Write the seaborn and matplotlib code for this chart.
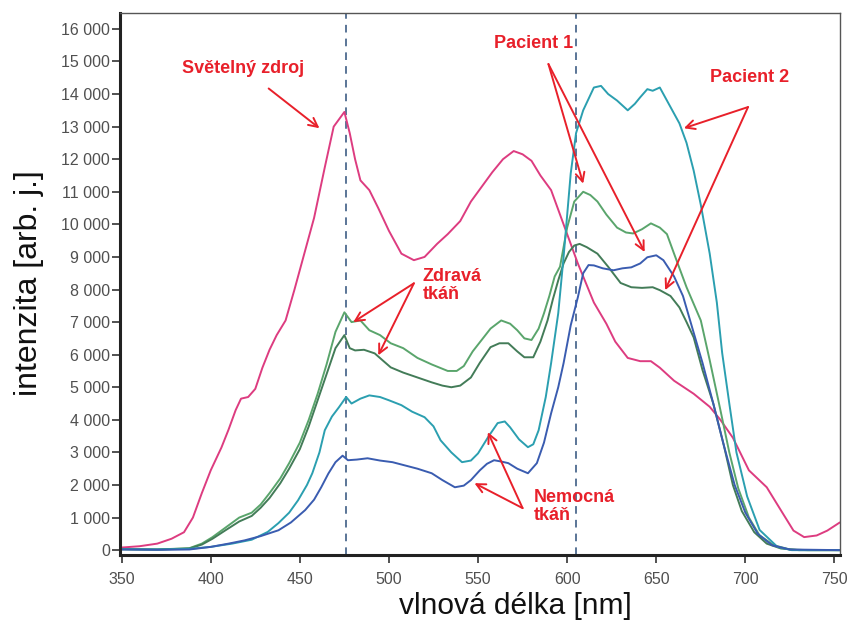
import matplotlib
matplotlib.use("Agg")
import matplotlib.pyplot as plt
import seaborn as sns
import numpy as np
from matplotlib.ticker import FuncFormatter

# ---------------- data ----------------
zdroj_x = [350, 360, 370, 378, 385, 390, 395, 400, 406, 410, 414, 417, 421, 425, 429, 433, 437, 442,
           447, 452, 458, 464, 469, 475, 478, 481, 484, 489, 494, 500, 507, 514, 520, 527, 533, 540,
           546, 552, 558, 564, 570, 575, 580, 585, 591, 598, 606, 615, 622, 627, 634, 641, 647, 652,
           660, 671, 680, 686, 693, 702, 712, 721, 727, 733, 740, 746, 753]
zdroj_y = [80, 120, 200, 350, 550, 1000, 1750, 2450, 3150, 3700, 4300, 4650, 4700, 4950, 5600, 6150,
           6600, 7050, 8000, 9000, 10200, 11750, 13000, 13450, 12800, 12000, 11350, 11050, 10500, 9800,
           9100, 8900, 9000, 9400, 9700, 10100, 10700, 11150, 11600, 12000, 12250, 12150, 11950, 11500,
           11050, 10000, 8800, 7600, 6950, 6400, 5900, 5800, 5800, 5600, 5200, 4800, 4400, 4000, 3450,
           2450, 1930, 1130, 600, 400, 450, 600, 850]

p2_x = [350, 370, 388, 400, 412, 423, 432, 438, 444, 449, 454, 457, 461, 464, 468, 472, 476, 479, 484,
        489, 495, 500, 507, 513, 520, 525, 529, 535, 541, 546, 550, 556, 561, 565, 568, 573, 578, 581,
        584, 588, 591, 595, 598, 602, 605, 609, 615, 619, 623, 628, 634, 638, 641, 645, 648, 652, 656,
        660, 663, 667, 671, 675, 680, 684, 687, 691, 695, 701, 708, 718, 726, 753]
p2_y = [30, 20, 40, 100, 200, 320, 560, 830, 1150, 1530, 2000, 2360, 3000, 3680, 4100, 4390, 4700, 4500,
        4650, 4750, 4700, 4600, 4450, 4250, 4080, 3800, 3370, 3000, 2700, 2750, 2970, 3500, 3900, 3950,
        3770, 3400, 3160, 3250, 3680, 4700, 5740, 7270, 9000, 11560, 12800, 13500, 14200, 14250, 14000,
        13800, 13500, 13700, 13900, 14150, 14100, 14200, 13800, 13400, 13100, 12500, 11650, 10600, 9100,
        7600, 6050, 4500, 3000, 1650, 620, 100, 0, 0]

zdrava1_x = [350, 370, 388, 395, 401, 408, 416, 423, 428, 433, 439, 444, 450, 455, 460, 465, 470, 475,
             479, 484, 489, 495, 501, 508, 516, 524, 533, 538, 542, 547, 552, 557, 563, 568, 572, 576,
             580, 584, 587, 590, 593, 596, 600, 604, 609, 613, 617, 622, 628, 633, 637, 642, 647, 652,
             656, 660, 667, 675, 680, 686, 691, 696, 702, 708, 716, 725, 735, 753]
zdrava1_y = [30, 20, 60, 200, 400, 680, 1000, 1150, 1400, 1750, 2200, 2670, 3300, 4000, 4800, 5700, 6700,
             7300, 7000, 7050, 6750, 6600, 6350, 6200, 5900, 5700, 5500, 5500, 5650, 6100, 6450, 6800,
             7050, 6950, 6750, 6500, 6450, 6800, 7270, 7800, 8400, 8700, 9900, 10700, 11000, 10900,
             10700, 10300, 9900, 9750, 9720, 9850, 10030, 9900, 9700, 9100, 8070, 7050, 5830, 4300,
             3000, 1900, 1000, 450, 150, 20, 0, 0]

zdrava2_x = [350, 370, 388, 395, 401, 408, 416, 423, 428, 433, 439, 444, 450, 455, 460, 465, 470, 475,
             478, 481, 486, 492, 497, 501, 508, 516, 524, 530, 535, 540, 546, 551, 557, 562, 567, 572,
             576, 581, 585, 589, 592, 595, 598, 601, 604, 607, 611, 617, 623, 630, 636, 642, 648, 652,
             658, 663, 667, 671, 676, 682, 688, 693, 698, 705, 712, 720, 730, 753]
zdrava2_y = [30, 20, 50, 170, 350, 600, 880, 1050, 1300, 1600, 2050, 2500, 3100, 3800, 4600, 5400, 6200,
             6600, 6200, 6130, 6150, 6040, 5800, 5610, 5450, 5300, 5150, 5050, 5000, 5050, 5300, 5750,
             6230, 6350, 6350, 6100, 5920, 5920, 6400, 7050, 7700, 8280, 8800, 9150, 9350, 9400, 9300,
             9100, 8700, 8200, 8070, 8050, 8070, 7980, 7800, 7450, 7000, 6530, 5520, 4500, 3200, 2000,
             1200, 550, 200, 50, 0, 0]

nemocna_x = [350, 370, 388, 400, 410, 419, 428, 438, 445, 453, 458, 462, 466, 470, 474, 477, 482, 488,
             495, 502, 509, 516, 524, 530, 537, 542, 546, 551, 555, 559, 563, 567, 572, 578, 583, 587,
             591, 595, 598, 602, 606, 609, 612, 615, 620, 626, 631, 636, 641, 645, 650, 654, 660, 665,
             669, 676, 682, 688, 694, 700, 707, 715, 725, 753]
nemocna_y = [20, 10, 20, 100, 200, 300, 430, 610, 850, 1230, 1550, 1930, 2350, 2700, 2900, 2760, 2780,
             2820, 2750, 2700, 2600, 2500, 2360, 2150, 1930, 1980, 2150, 2450, 2650, 2760, 2720, 2670,
             2500, 2360, 2670, 3300, 4200, 5000, 5740, 6900, 7760, 8500, 8750, 8740, 8650, 8590, 8650,
             8680, 8800, 8990, 9050, 8900, 8400, 7800, 7050, 5740, 4500, 3200, 2000, 1150, 500, 150, 20, 0]

x_ticks = [350, 400, 450, 500, 550, 600, 650, 700, 750]
y_ticks = list(range(0, 16001, 1000))
marker_lines = [476, 605]

# ---------------- style ----------------
sns.set_theme(style="white")
plt.rcParams['font.family'] = ['Liberation Sans', 'DejaVu Sans']

fig = plt.figure(figsize=(8.5, 6.3), dpi=100)
ax = fig.add_axes([0.141, 0.119, 0.847, 0.860])

series = [
    (zdroj_x, zdroj_y, "#dd3c80"),
    (zdrava1_x, zdrava1_y, "#5aa56c"),
    (zdrava2_x, zdrava2_y, "#437c58"),
    (p2_x, p2_y, "#2b9fb0"),
    (nemocna_x, nemocna_y, "#3a5cb0"),
]
for xs, ys, c in series:
    sns.lineplot(x=xs, y=ys, color=c, lw=1.4, ax=ax, estimator=None, sort=False)

for xv in marker_lines:
    ax.axvline(xv, color="#2d4f7a", lw=1.1, ls=(0, (5, 4)), zorder=1)

ax.set_xlim(349, 753)
ax.set_ylim(-150, 16480)
ax.set_xticks(x_ticks)
ax.set_yticks(y_ticks)
ax.yaxis.set_major_formatter(FuncFormatter(lambda v, p: f"{int(v):,}".replace(",", " ")))
ax.tick_params(axis="both", which="major", direction="out", length=6, width=1.2,
               color="#333333", labelsize=11.5, labelcolor="#505050", left=True, bottom=True)
ax.tick_params(axis="y", pad=1)
ax.tick_params(axis="x", pad=6)

for side in ["left", "bottom"]:
    ax.spines[side].set_linewidth(2.2)
    ax.spines[side].set_color("#222222")
for side in ["top", "right"]:
    ax.spines[side].set_linewidth(1.0)
    ax.spines[side].set_color("#555555")

ax.set_xlabel("vlnová délka [nm]", fontsize=21.5, color="#111111")
ax.set_ylabel("intenzita [arb. j.]", fontsize=23, color="#111111")
ax.xaxis.set_label_coords(0.549, -0.068)
ax.yaxis.set_label_coords(-0.106, 0.502)

# ---------------- annotations ----------------
red = "#e8202a"
aprops = dict(arrowstyle="->", color=red, lw=1.4, mutation_scale=16, shrinkA=0, shrinkB=0)
tfont = dict(color=red, fontsize=13, fontweight="bold")

ax.text(418, 14780, "Světelný zdroj", ha="center", va="center", **tfont)
ax.annotate("", xy=(461, 12950), xytext=(432.5, 14170), arrowprops=aprops)

ax.text(581, 15560, "Pacient 1", ha="center", va="center", **tfont)
ax.annotate("", xy=(609, 11250), xytext=(589.5, 14920), arrowprops=aprops)
ax.annotate("", xy=(643.5, 9150), xytext=(589.5, 14920), arrowprops=aprops)

ax.text(702.5, 14510, "Pacient 2", ha="center", va="center", **tfont)
ax.annotate("", xy=(665.5, 12950), xytext=(701.5, 13600), arrowprops=aprops)
ax.annotate("", xy=(655, 7980), xytext=(701.5, 13600), arrowprops=aprops)

ax.text(519, 8130, "Zdravá\ntkáň", ha="left", va="center", linespacing=1.1, **tfont)
ax.annotate("", xy=(480, 7000), xytext=(514, 8190), arrowprops=aprops)
ax.annotate("", xy=(494, 5980), xytext=(514, 8190), arrowprops=aprops)

ax.text(581, 1350, "Nemocná\ntkáň", ha="left", va="center", linespacing=1.1, **tfont)
ax.annotate("", xy=(555.5, 3620), xytext=(575, 1290), arrowprops=aprops)
ax.annotate("", xy=(548, 2055), xytext=(575, 1290), arrowprops=aprops)

fig.savefig("out.png", dpi=100)
